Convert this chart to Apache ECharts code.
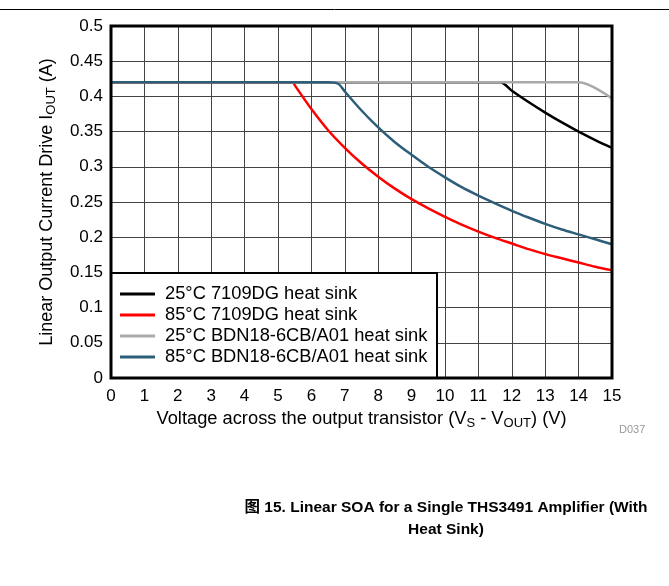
<!DOCTYPE html>
<html>
<head>
<meta charset="utf-8">
<script src="https://cdn.jsdelivr.net/npm/echarts@6/dist/echarts.min.js"></script>
<style>
  html, body { margin: 0; padding: 0; background: #fff; }
  #soa { width: 669px; height: 586px; }
</style>
</head>
<body>
<div id="soa"></div>
<script>
// Linear SOA, THS3491 with heat sink
var seriesNames = ['25°C 7109DG heat sink', '85°C 7109DG heat sink',
                   '25°C BDN18-6CB/A01 heat sink', '85°C BDN18-6CB/A01 heat sink'];
var seriesColors = ['#000000', '#ff0000', '#aaaaaa', '#2c5e78'];

var black25V = [0, 11.65, 12, 12.5, 13, 13.5, 14, 14.5, 15];
var black25I = [0.42, 0.42, 0.408, 0.392, 0.377, 0.363, 0.350, 0.338, 0.327];

var red85V = [0, 5.45, 5.5, 6, 6.5, 7, 7.5, 8, 8.5, 9, 9.5, 10, 10.5, 11, 11.5, 12, 12.5, 13, 13.5, 14, 14.5, 15];
var red85I = [0.42, 0.42, 0.416, 0.382, 0.352, 0.327, 0.305, 0.286, 0.269, 0.254, 0.241, 0.229,
              0.218, 0.208, 0.199, 0.191, 0.183, 0.176, 0.170, 0.164, 0.158, 0.153];

var gray25V = [0, 14, 15];
var gray25I = [0.42, 0.42, 0.397];

var blue85V = [0, 6.5, 6.8, 7, 7.5, 8, 8.5, 9, 9.5, 10, 10.5, 11, 11.5, 12, 12.5, 13, 13.5, 14, 14.5, 15];
var blue85I = [0.42, 0.42, 0.418, 0.407, 0.380, 0.356, 0.335, 0.317, 0.300, 0.285, 0.271, 0.259,
               0.248, 0.2375, 0.228, 0.219, 0.211, 0.204, 0.197, 0.190];

function pairs(xs, ys) {
    var out = [];
    for (var i = 0; i < xs.length; i++) out.push([xs[i], ys[i]]);
    return out;
}
var curves = [pairs(black25V, black25I), pairs(red85V, red85I),
              pairs(gray25V, gray25I), pairs(blue85V, blue85I)];

var font = '"Liberation Sans", Arial, "Noto Sans CJK SC", sans-serif';

var chart = echarts.init(document.getElementById('soa'));
var option = {
    animation: false,
    backgroundColor: '#fff',
    textStyle: { fontFamily: font },
    title: {
        text: '图 15. Linear SOA for a Single THS3491 Amplifier (With\nHeat Sink)',
        left: 441,
        top: 492,
        textAlign: 'center',
        textStyle: { fontFamily: font, fontSize: 15.5, fontWeight: 'bold', color: '#000', lineHeight: 22, align: 'center' }
    },
    grid: { left: 111, right: 57, top: 26, bottom: 208, show: false },
    legend: {
        orient: 'vertical',
        left: 120,
        top: 284,
        padding: 0,
        itemGap: 1,
        itemWidth: 35,
        itemHeight: 3,
        icon: 'rect',
        z: 5,
        data: seriesNames,
        textStyle: { fontFamily: font, fontSize: 18.3, color: '#000', lineHeight: 20, padding: [0, 0, 0, 5] }
    },
    xAxis: {
        type: 'value',
        min: 0, max: 15, interval: 1,
        name: 'Voltage across the output transistor (V{sub|S} - V{sub|OUT}) (V)',
        nameLocation: 'middle',
        nameGap: 28,
        nameTextStyle: {
            fontFamily: font, fontSize: 18.3, color: '#000',
            rich: { sub: { fontSize: 13, padding: [8, 0, 0, 0], fontFamily: font } }
        },
        axisLine: { show: false },
        axisTick: { show: false },
        axisLabel: { fontFamily: font, fontSize: 17, color: '#000', margin: 10 },
        splitLine: { show: true, lineStyle: { color: '#444', width: 1 } }
    },
    yAxis: {
        type: 'value',
        min: 0, max: 0.5, interval: 0.05,
        name: 'Linear Output Current Drive I{sub|OUT} (A)',
        nameLocation: 'middle',
        nameRotate: 90,
        nameGap: 53,
        nameTextStyle: {
            fontFamily: font, fontSize: 18, color: '#000',
            rich: { sub: { fontSize: 13, padding: [8, 0, 0, 0], fontFamily: font } }
        },
        axisLine: { show: false },
        axisTick: { show: false },
        axisLabel: { fontFamily: font, fontSize: 17, color: '#000', margin: 8 },
        splitLine: { show: true, lineStyle: { color: '#444', width: 1 } }
    },
    graphic: [
        { type: 'line', z: 10, shape: { x1: 0, y1: 9.5, x2: 669, y2: 9.5 }, style: { stroke: '#000', lineWidth: 1 } },
        { type: 'rect', z: 10, shape: { x: 111, y: 26, width: 501, height: 352 },
          style: { fill: null, stroke: '#000', lineWidth: 3 } },
        { type: 'rect', z: 3, shape: { x: 111, y: 273, width: 326, height: 105 },
          style: { fill: '#fff', stroke: '#000', lineWidth: 2 } },
        { type: 'text', z: 10, left: 619, top: 424,
          style: { text: 'D037', fill: '#999', fontSize: 11, fontFamily: font } }
    ],
    series: []
};
for (var k = 0; k < curves.length; k++) {
    option.series.push({
        name: seriesNames[k],
        type: 'line',
        data: curves[k],
        showSymbol: false,
        symbol: 'none',
        smooth: 0.3,
        color: seriesColors[k],
        lineStyle: { color: seriesColors[k], width: 2.5 },
        z: 2
    });
}
chart.setOption(option);
</script>
</body>
</html>
